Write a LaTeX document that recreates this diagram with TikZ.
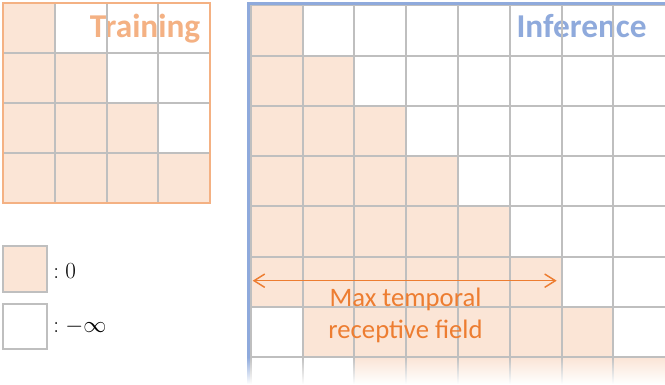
\documentclass[tikz,border=0pt]{standalone}
\usepackage{fontspec}
\newfontfamily\carl{Carlito}
\usetikzlibrary{arrows.meta}
\definecolor{peach}{RGB}{251,229,214}
\definecolor{gridgray}{RGB}{191,191,191}
\definecolor{trainor}{RGB}{244,177,131}
\definecolor{infblue}{RGB}{143,170,220}
\definecolor{arrowor}{RGB}{237,125,49}
\begin{document}
\begin{tikzpicture}[x=0.75pt,y=-0.75pt,
  gridline/.style={draw=gridgray,line width=1.5pt},
  cellfill/.style={fill=peach},
  bigtitle/.style={inner sep=0pt,font=\carl\bfseries\fontsize{25}{30}\selectfont},
  fieldtext/.style={inner sep=0pt,text=arrowor,font=\carl\fontsize{20}{24}\selectfont},
  legendbox/.style={draw=gridgray,line width=1.5pt},
  legendtext/.style={inner sep=0pt,anchor=base west,font=\fontsize{18.5}{22}\selectfont}]
\useasboundingbox (0,0) rectangle (665,385);
\fill[white] (0,0) rectangle (665,385);

% ---------------- Training grid ----------------
\foreach \r in {0,...,3}
  \foreach \c in {0,...,\r}
    \fill[cellfill] (3+51.75*\c,3+50*\r) rectangle ++(51.75,50);
\node[bigtitle,text=trainor,anchor=base east] (train) at (200.5,38) {Training};
\foreach \c in {1,2,3}
  \draw[gridline] (3+51.75*\c,3) -- ++(0,200);
\foreach \r in {1,2,3}
  \draw[gridline] (3,3+50*\r) -- ++(207,0);
\draw[trainor,line width=2pt] (3,3) rectangle (210,203);

% ---------------- Inference grid ----------------
\def\ox{250.8}\def\oy{5.5}\def\cw{51.8}\def\ch{50.2}
\foreach \r in {0,...,7}{
  \pgfmathtruncatemacro\cs{max(0,\r-5)}
  \foreach \c in {\cs,...,\r}
    \fill[cellfill] (\ox+\cw*\c,\oy+\ch*\r) rectangle ++(\cw,\ch);
}
\node[bigtitle,text=infblue,anchor=base east] (infer) at (647,38) {Inference};
\foreach \c in {0,...,7}
  \draw[gridline] (\ox+\cw*\c,\oy) -- ++(0,8*\ch);
\foreach \r in {0,...,7}
  \draw[gridline] (\ox,\oy+\ch*\r) -- (665,\oy+\ch*\r);
\draw[infblue,line width=2pt] (247.3,3.7) -- (665,3.7);
\draw[infblue,line width=2.2pt] (248.6,2.7) -- (248.6,400);
% fade-out of the last row
\foreach \i in {0,...,26}{
  \pgfmathsetmacro\op{(\i+1)/27}
  \fill[white,opacity=\op] (240,358+\i) rectangle (665,359+\i);
}

% ---------------- receptive field arrow ----------------
\coordinate (arrL) at (252.7,280.7);
\coordinate (arrR) at (556.7,280.7);
\draw[arrowor,line width=1.1pt,{Straight Barb[length=8pt,width=10pt]}-{Straight Barb[length=8pt,width=10pt]}] (arrL) -- (arrR);
\node[fieldtext,anchor=base] (fieldA) at (405.5,306.7) {Max temporal};
\node[fieldtext,anchor=base] (fieldB) at (405.5,338.5) {receptive field};

% ---------------- legend ----------------
\draw[legendbox,fill=peach] (3,246) rectangle (47,292);
\draw[legendbox,fill=white] (3,304) rectangle (47,349);
\node[legendtext] (lzero) at (53,278) {$:0$};
\node[legendtext] (linf) at (53,332) {$:-\infty$};
\end{tikzpicture}
\end{document}
